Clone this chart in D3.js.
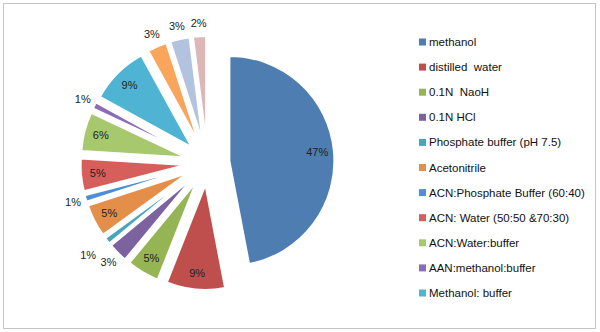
<!DOCTYPE html>
<html>
<head>
<meta charset="utf-8">
<script src="https://cdn.jsdelivr.net/npm/d3@7"></script>
<style>
  body { margin: 0; background: #fff; }
  text { font-family: "Liberation Sans", Arial, sans-serif; white-space: pre; }
</style>
</head>
<body>
<div id="chart"></div>
<script>
const categories = [
  'methanol', 'distilled  water', '0.1N  NaoH', '0.1N HCl',
  'Phosphate buffer (pH 7.5)', 'Acetonitrile', 'ACN:Phosphate Buffer (60:40)',
  'ACN: Water (50:50 &70:30)', 'ACN:Water:buffer', 'AAN:methanol:buffer',
  'Methanol: buffer', 'other 1', 'other 2', 'other 3'
]
const values = [47, 9, 5, 3, 1, 5, 1, 5, 6, 1, 9, 3, 3, 2]
const colors = [
  '#4e7db1', '#be4f4c', '#95b555', '#7d62a0', '#4aa4bc', '#e38f4a',
  '#4e8ed6', '#d65f5c', '#a8c86d', '#8d6cb6', '#4fb4d4',
  '#f9a65c', '#b3c2de', '#ddb7b6'
]
// only the first 11 show up in the legend
const legendCount = 11

const width = 600
const height = 332
const cx = 207.5
const cy = 163
const radius = 105
const explode = 22

const svg = d3.select('#chart').append('svg')
  .attr('width', width)
  .attr('height', height)

svg.append('rect')
  .attr('x', 3.5).attr('y', 3.5)
  .attr('width', 592).attr('height', 325)
  .attr('fill', '#fff')
  .attr('stroke', '#c4c4c4')

const data = categories.map((name, i) => ({ name, value: values[i], color: colors[i] }))

const pie = d3.pie().sort(null).value(d => d.value)
const arcs = pie(data)
const arc = d3.arc().innerRadius(0).outerRadius(radius)

const g = svg.append('g').attr('transform', `translate(${cx},${cy})`)

function offset(d, dist) {
  const a = (d.startAngle + d.endAngle) / 2
  return [Math.sin(a) * dist, -Math.cos(a) * dist]
}

const slice = g.selectAll('g.slice')
  .data(arcs)
  .join('g')
  .attr('class', 'slice')
  .attr('transform', d => `translate(${offset(d, explode)})`)

slice.append('path')
  .attr('d', arc)
  .attr('fill', d => d.data.color)
  .attr('stroke', '#fff')
  .attr('stroke-width', 2)
  .attr('stroke-linejoin', 'round')

const total = d3.sum(values)

// small slices get their label outside, pushed out further if it hits another one
const placed = []
arcs.forEach(d => {
  const pct = d.data.value / total
  const base = offset(d, explode)
  if (pct >= 0.05) {
    const p = offset(d, radius * 0.84)
    d.label = [base[0] + p[0], base[1] + p[1]]
    return
  }
  let dist = radius + 13
  let pos
  for (;;) {
    const p = offset(d, dist)
    pos = [base[0] + p[0], base[1] + p[1]]
    const hit = placed.some(q => Math.abs(q[0] - pos[0]) < 20 && Math.abs(q[1] - pos[1]) < 16)
    if (!hit) break
    dist += 1
  }
  placed.push(pos)
  d.label = pos
})

g.selectAll('text.pct')
  .data(arcs)
  .join('text')
  .attr('class', 'pct')
  .attr('transform', d => `translate(${d.label})`)
  .attr('text-anchor', 'middle')
  .attr('dy', '0.35em')
  .attr('font-size', 11)
  .attr('fill', '#222')
  .text(d => Math.round(d.data.value / total * 100) + '%')

const legendY = d3.scaleLinear().domain([0, legendCount - 1]).range([42, 293])

const legend = svg.append('g')
  .selectAll('g')
  .data(data.slice(0, legendCount))
  .join('g')
  .attr('transform', (d, i) => `translate(419,${legendY(i)})`)

legend.append('rect')
  .attr('x', 0).attr('y', -3.5)
  .attr('width', 7).attr('height', 7)
  .attr('fill', d => d.color)

legend.append('text')
  .attr('x', 10)
  .attr('dy', '0.35em')
  .attr('font-size', 11.5)
  .attr('fill', '#111')
  .text(d => d.name)
</script>
</body>
</html>
